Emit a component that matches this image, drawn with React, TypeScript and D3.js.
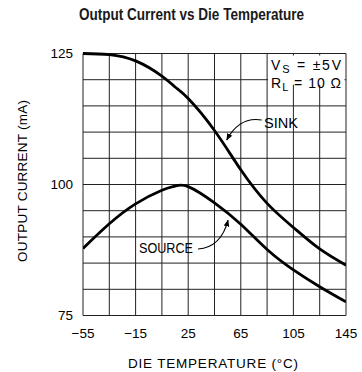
import React from "react";
import * as d3 from "d3";

// Die temperature (°C) sample points
const temps = [-55, -35, -15, 5, 15, 25, 45, 65, 85, 105, 125, 145];
// Output current (mA) when sinking
const sink = [125, 124.8, 123.6, 120.7, 118.6, 116.4, 110.3, 102.8, 96.4, 91.8, 87.7, 84.6];
// Output current (mA) when sourcing
const source = [87.8, 92.5, 96.3, 98.9, 99.7, 99.6, 96.5, 92.4, 87.6, 83.7, 80.5, 77.6];

const xTickLabels = [-55, -15, 25, 65, 105, 145];
const yTickLabels = [75, 100, 125];
const xGrid = d3.range(-55, 146, 20);
const yGrid = d3.range(75, 126, 5);

const W = 362;
const H = 372;
const M = { left: 83, right: 16, top: 53.5, bottom: 56.5 };

const font = "'Liberation Sans', Arial, sans-serif";

export default function App() {
  const x = d3.scaleLinear().domain([-55, 145]).range([M.left, W - M.right]);
  const y = d3.scaleLinear().domain([75, 125]).range([H - M.bottom, M.top]);

  const line = d3
    .line<number>()
    .x((_, i) => x(temps[i]))
    .y((d) => y(d))
    .curve(d3.curveNatural);

  const sinkText = { t: 82.6, v: 110.8 };
  const sinkArrow = { from: [80.9, 112.3], ctrl: [64, 113], to: [54.3, 108.5] };
  const srcText = { t: -12.4, v: 86.9 };
  const srcArrow = { from: [32.5, 87.7], ctrl: [50, 88], to: [55.3, 93.2] };

  const arrowPath = (a: { from: number[]; ctrl: number[]; to: number[] }) =>
    `M${x(a.from[0])},${y(a.from[1])} Q${x(a.ctrl[0])},${y(a.ctrl[1])} ${x(a.to[0])},${y(a.to[1])}`;

  const boxX = x(88) - 3;
  const boxW = x(145) - 1.5 - boxX;

  return (
    <svg
      width={W}
      height={H}
      style={{ position: "absolute", left: 0, top: 0, background: "#fff" }}
    >
      <defs>
        <marker
          id="arrow"
          viewBox="0 0 10 10"
          refX="9"
          refY="5"
          markerWidth="7"
          markerHeight="7"
          orient="auto"
          markerUnits="userSpaceOnUse"
        >
          <path d="M0,1 L10,5 L0,9 Z" fill="#000" />
        </marker>
        <clipPath id="plot">
          <rect x={x(-55)} y={y(125) - 2} width={x(145) - x(-55)} height={y(75) - y(125) + 4} />
        </clipPath>
      </defs>
      <rect width={W} height={H} fill="#fff" />
      <text
        x={79}
        y={20}
        fontFamily="'Liberation Sans', Arial, sans-serif"
        fontWeight="bold"
        fontSize={16}
        fill="#1a1a1a"
        textLength={225}
        lengthAdjust="spacingAndGlyphs"
      >
        Output Current vs Die Temperature
      </text>

      {/* grid */}
      <g stroke="#222" strokeWidth={1}>
        {xGrid.map((t) => (
          <line key={"vx" + t} x1={x(t)} x2={x(t)} y1={y(75)} y2={y(125)} />
        ))}
        {yGrid.map((v) => (
          <line key={"hy" + v} x1={x(-55)} x2={x(145)} y1={y(v)} y2={y(v)} />
        ))}
      </g>

      {/* curves */}
      <g fill="none" stroke="#000" strokeWidth={2.8} strokeLinejoin="round" clipPath="url(#plot)">
        <path d={line(sink) ?? ""} />
        <path d={line(source) ?? ""} />
      </g>

      {/* test conditions */}
      <rect x={boxX} y={y(125) + 2} width={boxW} height={y(120) - y(125) + 3} fill="#fff" />
      <g fontFamily={font} fontSize={14} fill="#000">
        <text x={x(88)} y={y(121.9)} textLength={70} lengthAdjust="spacing">
          V<tspan fontSize={11} dy={3}>S</tspan>
          <tspan dy={-3}> = ±5V</tspan>
        </text>
        <text x={x(88)} y={y(118.4)} textLength={70} lengthAdjust="spacing">
          R<tspan fontSize={11} dy={3}>L</tspan>
          <tspan dy={-3}> = 10 Ω</tspan>
        </text>
      </g>

      {/* curve labels */}
      <g fontFamily={font} fontSize={14} fill="#000">
        <text x={x(sinkText.t)} y={y(sinkText.v)} textLength={34} lengthAdjust="spacingAndGlyphs">
          SINK
        </text>
        <text x={x(srcText.t)} y={y(srcText.v)} textLength={54} lengthAdjust="spacingAndGlyphs">
          SOURCE
        </text>
      </g>
      <g fill="none" stroke="#000" strokeWidth={1.1}>
        <path d={arrowPath(sinkArrow)} markerEnd="url(#arrow)" />
        <path d={arrowPath(srcArrow)} markerEnd="url(#arrow)" />
      </g>

      {/* tick labels and axis titles */}
      <g fontFamily={font} fontSize={13.5} fill="#000">
        {yTickLabels.map((v) => (
          <text key={"yl" + v} x={x(-55) - 10} y={y(v) + 4} textAnchor="end">
            {v}
          </text>
        ))}
        {xTickLabels.map((t) => (
          <text key={"xl" + t} x={x(t)} y={338} textAnchor="middle">
            {t < 0 ? "−" + Math.abs(t) : t}
          </text>
        ))}
        <text x={128} y={368} textLength={170} lengthAdjust="spacing">
          DIE TEMPERATURE (°C)
        </text>
        <text
          transform={`translate(27,${262}) rotate(-90)`}
          textLength={162}
          lengthAdjust="spacing"
        >
          OUTPUT CURRENT (mA)
        </text>
      </g>
    </svg>
  );
}
